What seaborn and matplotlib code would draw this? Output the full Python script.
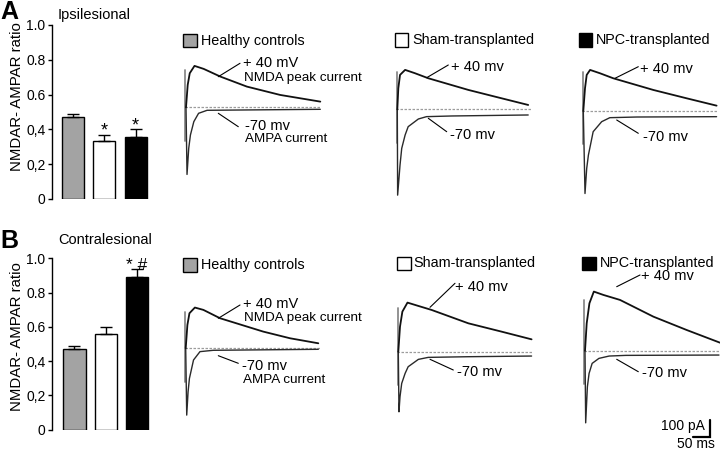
import matplotlib
matplotlib.use("Agg")
import numpy as np
import pandas as pd
import matplotlib.pyplot as plt
import seaborn as sns
from matplotlib.lines import Line2D
from matplotlib.patches import Rectangle

# ---------------- data ----------------
groups = ["Healthy controls", "Sham-transplanted", "NPC-transplanted"]
group_colors = ["#a3a3a3", "#ffffff", "#000000"]

ratio_ipsi = [0.47, 0.335, 0.358]
sem_ipsi = [0.02, 0.035, 0.042]
ratio_contra = [0.473, 0.558, 0.893]
sem_contra = [0.017, 0.042, 0.042]
sig_ipsi = ["", "*", "*"]
sig_contra = ["", "", "* #"]

ytick_values = [0, 0.2, 0.4, 0.6, 0.8, 1.0]
ytick_labels = ["0", "0,2", "0,4", "0.6", "0.8", "1.0"]

# example traces (time in ms, current in pA)
a_hc_nmda_t = [0, 5, 11, 25, 52, 101, 179, 277, 395]
a_hc_nmda_i = [0, 134, 204, 248, 230, 184, 124, 74, 34]
a_hc_ampa_t = [0, 3, 8, 13, 23, 37, 62, 395]
a_hc_ampa_i = [0, -402, -246, -166, -86, -36, -18, -12]

a_sh_nmda_t = [0, 3, 8, 23, 52, 91, 209, 287, 385]
a_sh_nmda_i = [0, 126, 206, 236, 216, 186, 116, 76, 26]
a_sh_ampa_t = [0, 1, 8, 13, 23, 32, 62, 86, 160, 385]
a_sh_ampa_i = [0, -514, -334, -234, -154, -104, -58, -44, -40, -34]

a_npc_nmda_t = [0, 5, 10, 20, 49, 88, 206, 304, 392]
a_npc_nmda_i = [0, 136, 216, 246, 226, 196, 126, 76, 32]
a_npc_ampa_t = [0, 5, 10, 15, 29, 54, 78, 157, 392]
a_npc_ampa_i = [0, -494, -344, -264, -124, -64, -40, -36, -34]

b_hc_nmda_t = [0, 5, 11, 27, 52, 101, 228, 307, 390]
b_hc_nmda_i = [0, 140, 210, 244, 230, 180, 100, 60, 30]
b_hc_ampa_t = [0, 3, 7, 11, 23, 42, 81, 390]
b_hc_ampa_i = [0, -400, -260, -180, -70, -20, -12, -6]

b_sh_nmda_t = [0, 5, 12, 27, 59, 98, 206, 304, 392]
b_sh_nmda_i = [0, 150, 240, 294, 274, 250, 170, 120, 74]
b_sh_ampa_t = [0, 2, 5, 10, 20, 29, 59, 88, 206, 392]
b_sh_ampa_i = [0, -360, -270, -190, -130, -90, -46, -34, -30, -26]

b_npc_nmda_t = [0, 5, 13, 26, 54, 103, 201, 299, 397]
b_npc_nmda_i = [0, 164, 284, 354, 334, 304, 204, 124, 48]
b_npc_ampa_t = [0, 2, 7, 12, 21, 41, 71, 120, 394]
b_npc_ampa_i = [0, -432, -216, -136, -76, -46, -32, -28, -26]

artifact_top = [222, 226, 236, 220, 262, 304]
baseline_t = [-3, 395]
scale_ms = 50
scale_pa = 100

# ---------------- layout helpers ----------------
W, H = 720, 451
PX_PER_MS = 0.34
PX_PER_PA = 0.167

sns.set_theme(style="white")
plt.rcParams["font.family"] = ["Liberation Sans", "DejaVu Sans"]
fig = plt.figure(figsize=(7.2, 4.51), dpi=100)


def fx(x):
    return x / W


def fy(y):
    return 1 - y / H


def ftext(x, y, s, size, ha="left", va="center", **kw):
    fig.text(fx(x), fy(y), s, fontsize=size, ha=ha, va=va, color="black", **kw)


def fline(x0, y0, x1, y1, lw=0.8):
    fig.add_artist(Line2D([fx(x0), fx(x1)], [fy(y0), fy(y1)],
                          transform=fig.transFigure, color="black", lw=lw))


# ---------------- bar panels ----------------
def bar_panel(left, top, bottom, x_lo, vals, errs, sigs, title, title_y,
              letter, letter_y, label_y):
    unit_px = 31.2
    width_px = (2.5 - x_lo) * unit_px
    ax = fig.add_axes([fx(left), fy(bottom), width_px / W, (bottom - top) / H])
    df = pd.DataFrame({"group": groups, "ratio": vals})
    sns.barplot(data=df, x="group", y="ratio", hue="group", palette=group_colors,
                order=groups, hue_order=groups, width=0.71, edgecolor="black",
                linewidth=1.0, legend=False, errorbar=None, ax=ax)
    ax.errorbar(np.arange(3), vals, yerr=[np.zeros(3), errs], fmt="none",
                ecolor="black", elinewidth=1.0, capsize=4, capthick=1.0,
                zorder=5, clip_on=False)
    for i, s in enumerate(sigs):
        if s:
            ax.text(i, vals[i] + errs[i] - 0.005, s, ha="center", va="baseline",
                    fontsize=13 if s == "*" else 12.5, color="black", clip_on=False)
    ax.set_xlim(x_lo, 2.5)
    ax.set_ylim(0, 1.0)
    ax.set_yticks(ytick_values)
    ax.set_yticklabels(ytick_labels, fontsize=10)
    ax.set_xticks([])
    ax.set_xlabel("")
    ax.set_ylabel("")
    for sp in ["top", "right", "bottom"]:
        ax.spines[sp].set_visible(False)
    ax.spines["left"].set_color("black")
    ax.spines["left"].set_linewidth(1.0)
    ax.tick_params(axis="y", direction="out", length=3.2, width=1.0, pad=1.5,
                   color="black", left=True, labelcolor="black")
    ax.set_facecolor("none")
    ax.grid(False)
    ftext(58, title_y, title, 10.5)
    ftext(17.5, label_y, "NMDAR- AMPAR ratio", 10.8, ha="center", rotation=90)
    ftext(0.5, letter_y, letter, 18, fontweight="bold")
    return ax


bar_panel(52, 25, 199, -0.68, ratio_ipsi, sem_ipsi, sig_ipsi,
          "Ipsilesional", 15, "A", 12, 97)
bar_panel(52, 258.3, 429.7, -0.72, ratio_contra, sem_contra, sig_contra,
          "Contralesional", 240, "B", 241, 337)

# ---------------- trace panels ----------------
traces = [
    (186.0, 107.3, a_hc_nmda_t, a_hc_nmda_i, a_hc_ampa_t, a_hc_ampa_i),
    (397.3, 109.3, a_sh_nmda_t, a_sh_nmda_i, a_sh_ampa_t, a_sh_ampa_i),
    (583.3, 111.0, a_npc_nmda_t, a_npc_nmda_i, a_npc_ampa_t, a_npc_ampa_i),
    (185.7, 348.3, b_hc_nmda_t, b_hc_nmda_i, b_hc_ampa_t, b_hc_ampa_i),
    (398.3, 351.7, b_sh_nmda_t, b_sh_nmda_i, b_sh_ampa_t, b_sh_ampa_i),
    (585.0, 350.7, b_npc_nmda_t, b_npc_nmda_i, b_npc_ampa_t, b_npc_ampa_i),
]

trace_axes = []
for k, (ox, oy, nt, ni, at, ai) in enumerate(traces):
    lpx, rpx, upx, dpx = 10, 140, 62, 92
    ax = fig.add_axes([fx(ox - lpx), fy(oy + dpx), (lpx + rpx) / W, (upx + dpx) / H])
    ax.set_xlim(-lpx / PX_PER_MS, rpx / PX_PER_MS)
    ax.set_ylim(-dpx / PX_PER_PA, upx / PX_PER_PA)
    ax.axis("off")
    sns.lineplot(x=baseline_t, y=[0, 0], ax=ax, color="#9c9c9c", lw=0.9,
                 linestyle=(0, (2.0, 1.2)), estimator=None, sort=False)
    sns.lineplot(x=[-2, -2], y=[artifact_top[k], -200], ax=ax, color="#8a8a8a",
                 lw=1.3, estimator=None, sort=False)
    sns.lineplot(x=at, y=ai, ax=ax, color="#2a2a2a", lw=1.0, estimator=None, sort=False)
    sns.lineplot(x=nt, y=ni, ax=ax, color="#111111", lw=1.3, estimator=None, sort=False)
    trace_axes.append(ax)

# scale bar in last trace panel
sax = trace_axes[5]
corner_t = (710 - 585.0) / PX_PER_MS
corner_i = -(437 - 350.7) / PX_PER_PA
sax.plot([corner_t - scale_ms, corner_t, corner_t],
         [corner_i, corner_i, corner_i + scale_pa],
         color="black", lw=1.6, clip_on=False, solid_joinstyle="miter")
ftext(705, 426, "100 pA", 10, ha="right")
ftext(696, 444, "50 ms", 10, ha="center")

# ---------------- panel headers (group keys) ----------------
headers = [
    (183, 40.5, 201, 0), (394.5, 40, 412, 1), (578.5, 40, 596, 2),
    (183, 265, 201, 0), (397, 263.5, 413, 1), (582, 263.5, 600, 2),
]
for sx, cy, tx, g in headers:
    fig.add_artist(Rectangle((fx(sx), fy(cy + 6.5)), 13.5 / W, 13.5 / H,
                             transform=fig.transFigure, facecolor=group_colors[g],
                             edgecolor="black", lw=1.0))
    ftext(tx, cy, groups[g], 10.4)

# ---------------- trace annotations ----------------
ann = [
    # A healthy
    (243, 63.3, "+ 40 mV", 218.3, 76.7, 240, 63.3),
    (245, 126, "-70 mv", 218.3, 113.3, 238.3, 126.7),
    # A sham
    (451, 67, "+ 40 mv", 426.7, 77.7, 448.3, 65),
    (450, 135, "-70 mv", 428.3, 118.3, 446.7, 131.7),
    # A NPC
    (640, 69, "+ 40 mv", 615, 78.3, 638.3, 66.7),
    (643, 136.7, "-70 mv", 616.7, 120, 638.3, 133.3),
    # B healthy
    (243, 304.3, "+ 40 mV", 218.3, 318.3, 240, 305),
    (242, 365.7, "-70 mv", 218.3, 355.7, 238.3, 363.3),
    # B sham
    (455, 286.7, "+ 40 mv", 430, 307.3, 455, 283.3),
    (457, 371.7, "-70 mv", 430, 359.3, 453.3, 370),
    # B NPC
    (641, 276, "+ 40 mv", 616.7, 286.7, 640, 275),
    (642, 373.3, "-70 mv", 616.7, 359.3, 638.3, 371.7),
]
for tx, ty, s, x0, y0, x1, y1 in ann:
    ftext(tx, ty, s, 10.5)
    fline(x0, y0, x1, y1)

ftext(244, 78.5, "NMDA peak current", 9.7)
ftext(245, 139.5, "AMPA current", 9.7)
ftext(244, 318.5, "NMDA peak current", 9.7)
ftext(243, 380, "AMPA current", 9.7)

fig.savefig("out.png", dpi=100, facecolor="white")
